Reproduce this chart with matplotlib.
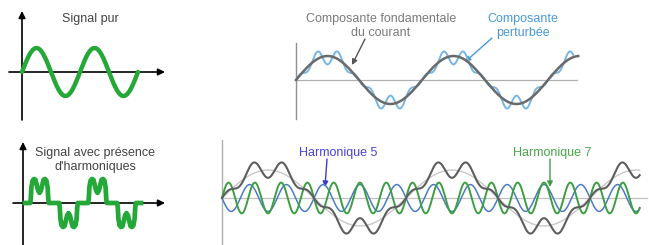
import numpy as np
import matplotlib.pyplot as plt

plt.rcParams['font.family'] = ['Liberation Sans', 'DejaVu Sans']

W, H = 649, 245

# top left : pure signal
pure_orders = [1]
pure_amps = [1.0]
pure_cycles = 2.0

# top right : fundamental and perturbed current
fund_orders = [1]
fund_amps = [1.0]
fund_cycles = 2.24
pert_orders = [1, 5, 7]
pert_amps = [1.0, -0.17, 0.18]
pert_cycles = 2.2

# bottom left : one half wave of the distorted signal (x in cycles, y normalised)
pulse_x = [0.0, 0.09, 0.10, 0.11, 0.13, 0.155, 0.18, 0.20, 0.225, 0.25,
           0.275, 0.30, 0.32, 0.345, 0.37, 0.39, 0.40, 0.41, 0.5]
pulse_y = [0.0, 0.0, 0.2, 0.65, 0.93, 1.0, 0.97, 0.78, 0.52, 0.42,
           0.52, 0.78, 0.97, 1.0, 0.93, 0.65, 0.2, 0.0, 0.0]
pulse_signs = [1, -1, 1, -1]

# bottom right : fundamental, harmonics 5 and 7, resulting signal
harm_cycles = 2.27
base_orders = [1]
base_amps = [1.0]
h5_orders = [5]
h5_amps = [-0.48]
h7_orders = [7]
h7_amps = [0.55]
sum_orders = [1, 5, 7]
sum_amps = [1.08, -0.17, 0.19]


def wave(orders, amps, cycles, n=1500):
    t = np.linspace(0, cycles, n)
    y = np.zeros(n)
    for k, a in zip(orders, amps):
        y += a * np.sin(2 * np.pi * k * t)
    return t, y


def panel(box, origin, sx, sy):
    # box in pixels (left, top, right, bottom), origin = pixel of (0, 0)
    l, t, r, b = box
    ax = fig.add_axes([l / W, 1 - b / H, (r - l) / W, (b - t) / H])
    x0, y0 = origin
    ax.set_xlim((l - x0) / sx, (r - x0) / sx)
    ax.set_ylim((y0 - b) / sy, (y0 - t) / sy)
    ax.axis('off')
    return ax


fig = plt.figure(figsize=(W / 100, H / 100), dpi=100)

# overlay for axes arrows, texts and pointers (pixel coordinates)
ov = fig.add_axes([0, 0, 1, 1])
ov.set_xlim(0, W)
ov.set_ylim(H, 0)
ov.axis('off')


def arrow(p_from, p_to, color='black', lw=1.2, ms=10):
    ov.annotate('', xy=p_to, xytext=p_from,
                arrowprops=dict(arrowstyle='-|>', color=color, lw=lw, mutation_scale=ms,
                                shrinkA=0, shrinkB=0))


# ---- top left
ax1 = panel((0, 0, 170, 125), (22, 72), 58, 24)
t, y = wave(pure_orders, pure_amps, pure_cycles)
ax1.plot(t, y, color='#24a838', lw=3.2, solid_capstyle='round', clip_on=False)
arrow((22, 120), (22, 11))
arrow((9, 72), (165, 72))
ov.text(90, 19, 'Signal pur', ha='center', va='center', fontsize=9, color='#444444')

# ---- top right
ax2 = panel((285, 0, 600, 125), (296, 80), 126, 24)
ax2.axhline(0, xmin=(296 - 285) / 315, xmax=(577 - 285) / 315, color='#b0b0b0', lw=0.9)
ov.plot([296, 296], [43, 119], color='#909090', lw=1.0)
t, y = wave(pert_orders, pert_amps, pert_cycles)
ax2.plot(t, y, color='#78b6e2', lw=1.4, clip_on=False)
t, y = wave(fund_orders, fund_amps, fund_cycles)
ax2.plot(t, y, color='#6a6a6a', lw=1.8, clip_on=False)
ov.text(381, 26, 'Composante fondamentale\ndu courant', ha='center', va='center',
        fontsize=9, color='#7a7a7a', linespacing=1.2)
ov.text(523, 26, 'Composante\nperturbée', ha='center', va='center',
        fontsize=9, color='#4a9ad8', linespacing=1.2)
arrow((365, 39), (352, 65), color='#555555', lw=1.0, ms=8)
arrow((492, 38), (465, 62), color='#4a9ad8', lw=1.0, ms=8)

# ---- bottom left
ax3 = panel((0, 125, 170, 245), (25, 203), 58, 24)
xs, ys = [], []
for i, s in enumerate(pulse_signs):
    xs += [0.5 * i + p for p in pulse_x]
    ys += [s * v for v in pulse_y]
ax3.plot(xs, ys, color='#24a838', lw=3.4, solid_joinstyle='round', clip_on=False)
arrow((23, 246), (23, 142))
arrow((13, 203), (165, 203))
ov.text(95, 160, "Signal avec présence\nd'harmoniques", ha='center', va='center',
        fontsize=9, color='#444444', linespacing=1.2)

# ---- bottom right
ax4 = panel((215, 130, 649, 245), (222, 198), 184, 28)
ax4.axhline(0, xmin=(222 - 215) / 434, xmax=(647 - 215) / 434, color='#c0c0c0', lw=0.9)
ov.plot([222, 222], [140, 246], color='#b0b0b0', lw=1.0)
t, y = wave(base_orders, base_amps, harm_cycles)
ax4.plot(t, y, color='#c8c8c8', lw=1.0, clip_on=False)
t, y = wave(h5_orders, h5_amps, harm_cycles)
ax4.plot(t, y, color='#4d7cc4', lw=1.1, clip_on=False)
t, y = wave(h7_orders, h7_amps, harm_cycles)
ax4.plot(t, y, color='#3e9e44', lw=1.4, clip_on=False)
t, y = wave(sum_orders, sum_amps, harm_cycles)
ax4.plot(t, y, color='#5e5e5e', lw=1.5, clip_on=False)
ov.text(338, 153, 'Harmonique 5', ha='center', va='center', fontsize=9, color='#4a44d8')
ov.text(552, 153, 'Harmonique 7', ha='center', va='center', fontsize=9, color='#48a848')
arrow((327, 159), (325, 187), color='#3a3ad0', lw=1.0, ms=8)
arrow((550, 159), (550, 187), color='#3e9e44', lw=1.0, ms=8)

fig.savefig('out.png', dpi=100)
